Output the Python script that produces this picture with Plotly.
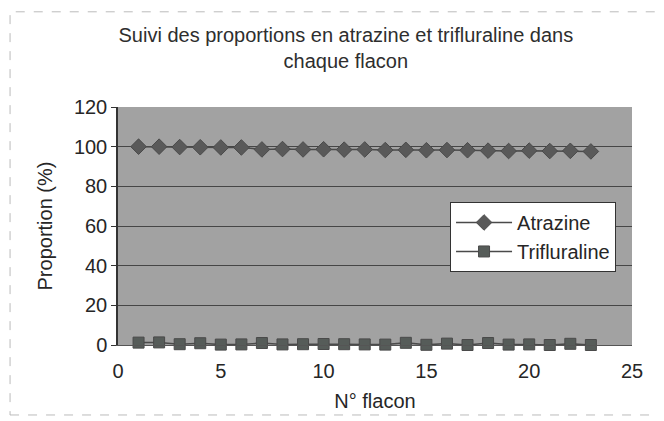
import plotly.graph_objects as go

flacon = list(range(1, 24))
atrazine = [100.0, 100.0, 99.8, 99.7, 99.6, 99.6, 98.6, 98.8, 98.6, 98.7, 98.5, 98.6,
            98.3, 98.4, 98.2, 98.3, 98.2, 98.0, 97.8, 98.0, 97.8, 97.9, 97.6]
trifluraline = [1.2, 1.3, 0.4, 0.9, 0.2, 0.3, 1.0, 0.3, 0.4, 0.5, 0.4, 0.3,
                0.2, 1.1, 0.1, 0.7, 0.0, 1.0, 0.2, 0.3, 0.0, 0.6, 0.0]

y_ticks = [0, 20, 40, 60, 80, 100, 120]
x_ticks = [0, 5, 10, 15, 20, 25]

dark = "#4a4a4a"
FS = 20
fig = go.Figure()
fig.add_trace(go.Scatter(
    x=flacon, y=atrazine, name="Atrazine", mode="lines+markers",
    line=dict(color=dark, width=1.5), cliponaxis=False,
    marker=dict(symbol="diamond", size=12, color="#595959", line=dict(color=dark, width=1)),
))
fig.add_trace(go.Scatter(
    x=flacon, y=trifluraline, name="Trifluraline", mode="lines+markers",
    line=dict(color=dark, width=1.5), cliponaxis=False,
    marker=dict(symbol="square", size=11, color="#565c59", line=dict(color=dark, width=1)),
))

fig.update_layout(
    width=656, height=413,
    margin=dict(l=110, r=32, t=99, b=76),
    paper_bgcolor="white",
    plot_bgcolor="#a2a2a2",
    font=dict(family="Liberation Sans, Arial, sans-serif", size=FS, color="#262626"),
    title=dict(
        text="Suivi des proportions en atrazine et trifluraline dans<br>chaque flacon",
        x=0.515, xanchor="center", y=0.918, yanchor="top",
        font=dict(size=FS, color="#2e2e2e"),
    ),
    showlegend=True,
    legend=dict(
        x=0.646, y=0.601, xanchor="left", yanchor="top",
        bgcolor="white", bordercolor="#333333", borderwidth=1,
        font=dict(size=FS, color="#262626"),
        itemwidth=56, tracegroupgap=2,
    ),
    xaxis=dict(
        range=[0, 25], tickvals=x_ticks, showgrid=False, zeroline=False,
        showline=True, linecolor="#555555", linewidth=1,
        ticks="", tickfont=dict(size=FS), ticklabelstandoff=8,
        title=dict(text="N° flacon", font=dict(size=FS), standoff=12),
    ),
    yaxis=dict(
        range=[0, 120], tickvals=y_ticks, showgrid=True, gridcolor="#464646",
        gridwidth=1, zeroline=False,
        showline=True, linecolor="#333333", linewidth=1.5,
        ticks="outside", ticklen=5, tickcolor="#333333", tickfont=dict(size=FS),
        title=dict(text="Proportion (%)", font=dict(size=FS), standoff=16),
    ),
    shapes=[dict(type="rect", xref="paper", yref="paper",
                 x0=-0.21, x1=1.058, y0=-0.294, y1=1.40,
                 line=dict(color="#bbbbbb", width=1, dash="dash"))],
)

fig.write_html("out.html")
